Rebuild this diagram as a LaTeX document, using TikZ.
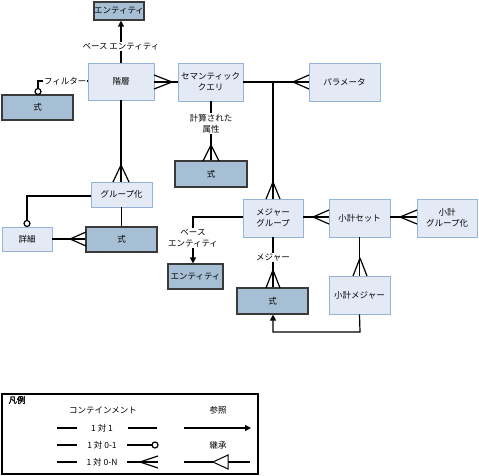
\documentclass[tikz,border=0pt]{standalone}
\usepackage{fontspec}
\setmainfont{Noto Sans CJK JP}
\newfontfamily\jpbold{Noto Sans CJK JP}[FakeBold=2]
\usetikzlibrary{arrows.meta,calc}
\definecolor{lightfill}{HTML}{E3EAF5}
\definecolor{lightdraw}{HTML}{95B3D7}
\definecolor{darkfill}{HTML}{A6BFD4}
\definecolor{darkdraw}{HTML}{3A3A3A}
\tikzset{
  lbox/.style={draw=lightdraw,fill=lightfill,line width=0.9pt,align=center,inner sep=0pt,minimum width=#1},
  dbox/.style={draw=darkdraw,fill=darkfill,line width=1.2pt,align=center,inner sep=0pt,minimum width=#1},
  conn/.style={line width=1.2pt,black},
  lab/.style={fill=white,inner sep=1pt,align=center},
  refarrow/.style={conn,-{Triangle[length=6pt,width=6pt]}},
  ocirc/.style={draw=black,line width=1.2pt,fill=white},
}
\newcommand\crowfoot[3]{\draw[conn] (#1) -- (#2) (#1) -- (#3);}
\begin{document}
\begin{tikzpicture}[x=1pt,y=-1pt,font=\fontsize{8.5}{11}\selectfont]
\useasboundingbox (0,0) rectangle (479,476);
% nodes
\node[dbox=50pt,minimum height=18pt] (ent1) at (119,11) {エンティティ};
\node[lbox=66pt,minimum height=37pt] (hier) at (121,81.5) {階層};
\node[dbox=71pt,minimum height=25pt] (fx1) at (37.5,107.5) {式};
\node[lbox=65pt,minimum height=38pt] (sq) at (210.5,82) {セマンティック\\クエリ};
\node[lbox=71pt,minimum height=38pt] (param) at (344.5,82) {パラメータ};
\node[dbox=72pt,minimum height=26pt] (fx2) at (211,174) {式};
\node[lbox=61pt,minimum height=25pt] (group) at (121.5,194.5) {グループ化};
\node[lbox=50pt,minimum height=24pt] (detail) at (27,239) {詳細};
\node[dbox=71pt,minimum height=25pt] (fx3) at (121.5,239.5) {式};
\node[lbox=60pt,minimum height=38pt] (mg) at (273,218) {メジャー\\グループ};
\node[lbox=61pt,minimum height=38pt] (sset) at (359.5,218) {小計セット};
\node[lbox=60pt,minimum height=38pt] (sgrp) at (447,218) {小計\\グループ化};
\node[lbox=61pt,minimum height=38pt] (smeas) at (359.5,295) {小計メジャー};
\node[dbox=71pt,minimum height=26pt] (fx4) at (272.5,301) {式};
\node[dbox=55pt,minimum height=25pt] (ent2) at (195.5,276.5) {エンティティ};

% connectors
\draw[refarrow] (hier.north) -- node[lab,pos=0.38] (l1) {ベース エンティティ} (ent1.south -| hier.north);
\coordinate (fcorner) at (38,81);
\draw[conn] (hier.west |- fcorner) -- node[lab,pos=0.45] (l2) {フィルター} (fcorner) -- (38,88.5);
\draw[ocirc] (38,91.5) circle (3pt);

\draw[conn] (hier.east |- 0,82) -- (sq.west |- 0,82);
\crowfoot{172,82}{154,75}{154,89}
\draw[conn] (sq.east) -- (param.west);
\crowfoot{293,82}{309,75}{309,89}
\coordinate (junc) at (273,82);
\draw[conn] (junc) -- (mg.north);
\crowfoot{273,182}{266,199}{280,199}

\draw[conn] (sq.south -| fx2.north) -- node[lab,pos=0.38] (l3) {計算された\\属性} (fx2.north);
\crowfoot{211,145}{203,161}{219,161}

\draw[conn] (hier.south) -- (group.north -| hier.south);
\crowfoot{121,165}{113,182}{129,182}

\coordinate (dcorner) at (27,196);
\draw[conn] (group.west |- dcorner) -- (dcorner) -- (27,220.5);
\draw[ocirc] (27,223.5) circle (3pt);

\draw[conn] (fx3.north) -- (group.south);
\draw[conn] (detail.east) -- (fx3.west |- detail.east);
\crowfoot{70,239}{86,232}{86,246}

\draw[conn] (mg.east |- 0,217) -- (sset.west |- 0,217);
\crowfoot{313,217}{329,210}{329,224}
\draw[conn] (sset.east |- 0,217) -- (sgrp.west |- 0,217);
\crowfoot{400,217}{417,210}{417,224}

\draw[conn] (sset.south) -- (smeas.north);
\crowfoot{360,258}{353,276}{367,276}

\draw[conn] (mg.south) -- node[lab,pos=0.4] (l4) {メジャー} (fx4.north -| mg.south);
\crowfoot{273,270}{266,288}{280,288}

\coordinate (bcorner) at (360,332);
\draw[refarrow] (smeas.south) -- (bcorner) -- (bcorner -| mg.south) -- (fx4.south -| mg.south);

\coordinate (ecorner) at (193,217);
\draw[refarrow] (mg.west |- ecorner) -- (ecorner) -- node[lab,pos=0.45] (l5) {ベース\\エンティティ} (ecorner |- ent2.north);

% legend
\node[draw=black,line width=1.2pt,minimum width=256pt,minimum height=80pt,inner sep=0pt] (legend) at (130,434) {};
\node[font=\fontsize{8.5}{11}\selectfont\jpbold] (lgtitle) at (17,400) {凡例};
\node (lgcont) at (103,410) {コンテインメント};
\node (lgref) at (218,410) {参照};
\node (lg11) at (102,428) {1 対 1};
\draw[conn] (57,428) -- (77,428) (128,428) -- (157,428);
\node (lg01) at (102,445) {1 対 0-1};
\draw[conn] (57,445) -- (77,445) (127,445) -- (152,445);
\draw[ocirc] (155,445) circle (3pt);
\node (lg0n) at (102,462) {1 対 0-N};
\draw[conn] (57,462) -- (77,462) (127,462) -- (158,462);
\crowfoot{140,462}{158,456}{158,468}
\draw[refarrow] (184,428) -- (251,428);
\node (lginh) at (218,445) {継承};
\draw[conn] (184,462) -- (213,462) (228,462) -- (250,462);
\draw[line width=1pt,fill=white] (213,462) -- (228,455) -- (228,469) -- cycle;
\end{tikzpicture}
\end{document}
